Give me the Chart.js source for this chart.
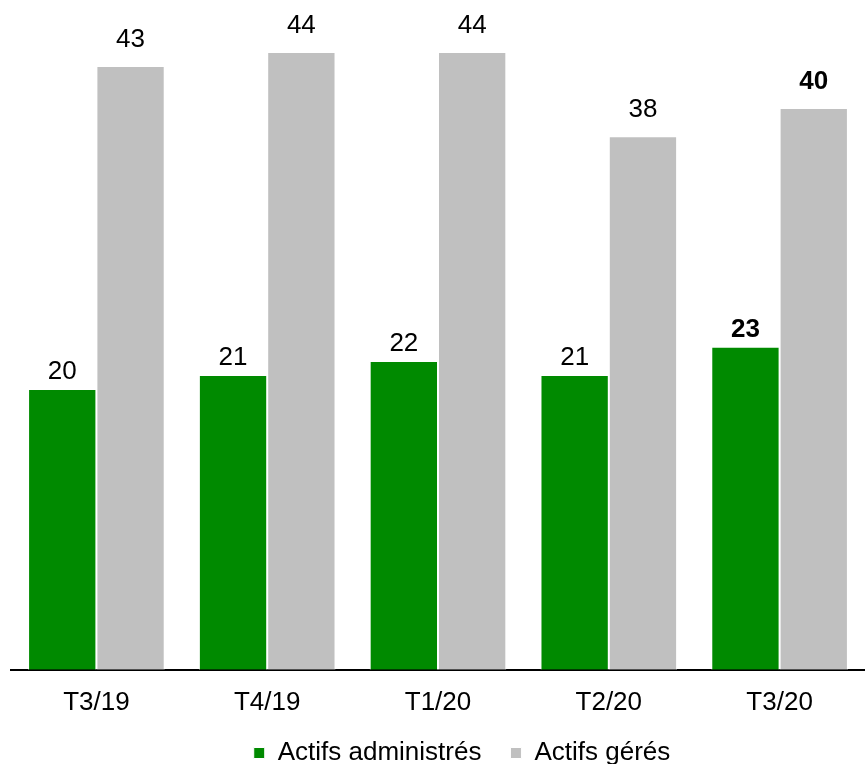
<!DOCTYPE html>
<html lang="fr">
<head>
  <meta charset="UTF-8">
  <title>Actifs administrés et gérés</title>
  <script src="https://cdn.jsdelivr.net/npm/chart.js"></script>
  <style>
    body {
      margin: 0;
      background-color: #ffffff;
    }

    .chart-box {
      width: 865px;
      height: 764px;
    }
  </style>
</head>
<body>
  <div class="chart-box">
    <canvas id="actifsChart"></canvas>
  </div>

  <script>
    const quarters = ['T3/19', 'T4/19', 'T1/20', 'T2/20', 'T3/20'];
    const administres = [20, 21, 22, 21, 23];
    const geres = [43, 44, 44, 38, 40];

    // last quarter values are printed in bold
    const boldIndex = quarters.length - 1;
    const labelGap = [10, 19];
    const fontFamily = '"Liberation Sans", Arial, sans-serif';

    const valueLabels = {
      id: 'valueLabels',
      afterDatasetsDraw(chart) {
        const ctx = chart.ctx;
        ctx.save();
        ctx.fillStyle = '#000000';
        ctx.textAlign = 'center';
        ctx.textBaseline = 'alphabetic';
        chart.data.datasets.forEach((ds, di) => {
          chart.getDatasetMeta(di).data.forEach((bar, i) => {
            const weight = i === boldIndex ? 'bold ' : '';
            ctx.font = weight + '26px ' + fontFamily;
            ctx.fillText(ds.data[i], bar.x, bar.y - labelGap[di]);
          });
        });
        ctx.restore();
      }
    };

    // legend keeps a thin slot; move it up/right and let it run to the bottom edge
    const legendShift = {
      id: 'legendShift',
      beforeDraw(chart) {
        const lg = chart.legend;
        lg.left += 24;
        lg.right += 24;
        lg.top -= 24;
        lg.bottom = chart.height;
      }
    };

    const ctx = document.getElementById('actifsChart').getContext('2d');
    new Chart(ctx, {
      type: 'bar',
      data: {
        labels: quarters,
        datasets: [
          {
            label: 'Actifs administrés',
            data: administres,
            backgroundColor: '#008a00',
            borderColor: '#ffffff',
            borderWidth: 1
          },
          {
            label: 'Actifs gérés',
            data: geres,
            backgroundColor: '#c0c0c0',
            borderColor: '#ffffff',
            borderWidth: 1
          }
        ]
      },
      options: {
        responsive: true,
        maintainAspectRatio: false,
        animation: false,
        categoryPercentage: 0.8,
        barPercentage: 1,
        layout: {
          padding: { left: 11, right: 0, top: 0, bottom: 0 }
        },
        scales: {
          x: {
            grid: { display: false, drawTicks: false },
            border: { display: true, color: '#000000', width: 2 },
            ticks: {
              color: '#000000',
              padding: 17,
              font: { size: 26, family: fontFamily }
            }
          },
          y: {
            display: false,
            min: 0,
            max: 47.7
          }
        },
        plugins: {
          legend: {
            position: 'bottom',
            maxHeight: 29,
            labels: {
              color: '#000000',
              boxWidth: 11,
              boxHeight: 11,
              padding: 29,
              font: { size: 26, family: fontFamily }
            }
          },
          tooltip: { enabled: false }
        }
      },
      plugins: [valueLabels, legendShift]
    });
  </script>
</body>
</html>
